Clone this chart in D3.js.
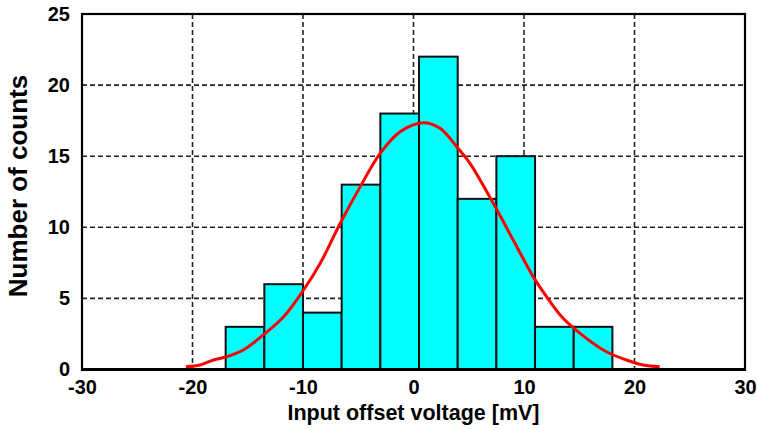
<!DOCTYPE html>
<html>
  <head>
    <meta charset="utf-8">
    <title>Input offset voltage histogram</title>
    <script type="text/javascript" src="https://d3js.org/d3.v7.min.js"></script>
    <style>
      body { margin: 0; background: #fff; }
      text { font-family: "Liberation Sans", Arial, sans-serif; font-weight: bold; fill: #000; }
    </style>
  </head>

  <body>
    <script>

    // histogram bins (left edges) and counts
    var binEdges = [-17, -13.5, -10, -6.5, -3, 0.5, 4, 7.5, 11, 14.5, 18];
    var counts   = [3, 6, 4, 13, 18, 22, 12, 15, 3, 3];

    // fitted curve
    var curveX = [-20.6, -19.3, -18.1, -16.9, -15.4, -13.6, -11.75, -9.95, -8.44, -6.63, -4.82, -3.02, -1.21,
                  0.89, 2.4, 3.91, 5.11, 7.22, 9.02, 10.83, 12.04, 13.54, 15.65, 17.46, 19.27, 20.77, 22.28];
    var curveY = [0.2, 0.32, 0.67, 0.9, 1.37, 2.43, 3.71, 5.59, 7.47, 10.28, 12.86, 15.2, 16.72,
                  17.36, 16.96, 15.67, 14.5, 11.69, 9.11, 6.53, 5.12, 3.6, 2.19, 1.25, 0.67, 0.32, 0.2];

    var xTicks = [-30, -20, -10, 0, 10, 20, 30];
    var yTicks = [0, 5, 10, 15, 20, 25];

    var width = 757, height = 429;
    var plotLeft = 82, plotRight = 745, plotTop = 14, plotBottom = 369.5;   // plot frame

    var x = d3.scaleLinear().domain([-30, 30]).range([plotLeft, plotRight]);
    var y = d3.scaleLinear().domain([0, 25]).range([plotBottom, plotTop]);

    var svg = d3.select('body')
                .append('svg')
                .attr("width", width)
                .attr("height", height);

    // dashed grid
    svg.append("g")
       .selectAll("line")
       .data(xTicks.slice(1, -1))
       .enter().append("line")
         .attr("x1", function(d) { return x(d); })
         .attr("x2", function(d) { return x(d); })
         .attr("y1", plotTop).attr("y2", plotBottom)
         .attr("stroke", "#222").attr("stroke-width", 1.6)
         .attr("stroke-dasharray", "5,3");

    svg.append("g")
       .selectAll("line")
       .data(yTicks.slice(1, -1))
       .enter().append("line")
         .attr("y1", function(d) { return y(d); })
         .attr("y2", function(d) { return y(d); })
         .attr("x1", plotLeft).attr("x2", plotRight)
         .attr("stroke", "#222").attr("stroke-width", 1.6)
         .attr("stroke-dasharray", "5,3");

    // bars
    svg.append("g")
       .selectAll("rect")
       .data(counts)
       .enter().append("rect")
         .attr("x", function(d, i) { return x(binEdges[i]); })
         .attr("width", function(d, i) { return x(binEdges[i + 1]) - x(binEdges[i]); })
         .attr("y", function(d) { return y(d); })
         .attr("height", function(d) { return y(0) - y(d); })
         .attr("fill", "#00ffff")
         .attr("stroke", "#111")
         .attr("stroke-width", 2);

    // fit curve
    var line = d3.line()
                 .x(function(d, i) { return x(curveX[i]); })
                 .y(function(d) { return y(d); })
                 .curve(d3.curveCatmullRom);

    svg.append("path")
       .datum(curveY)
       .attr("d", line)
       .attr("fill", "none")
       .attr("stroke", "#ff0000")
       .attr("stroke-width", 3);

    // frame
    svg.append("rect")
       .attr("x", plotLeft).attr("y", plotTop)
       .attr("width", plotRight - plotLeft).attr("height", plotBottom - plotTop)
       .attr("fill", "none").attr("stroke", "#000").attr("stroke-width", 2.2);
    svg.append("line")
       .attr("x1", plotLeft - 1).attr("x2", plotRight + 1)
       .attr("y1", plotBottom).attr("y2", plotBottom)
       .attr("stroke", "#000").attr("stroke-width", 3);

    // axes (labels only), plain hyphen minus as in the original
    var fmt = function(d) { return String(d); };
    var xAxis = d3.axisBottom(x).tickValues(xTicks).tickFormat(fmt).tickSize(0).tickPadding(10);
    var yAxis = d3.axisLeft(y).tickValues(yTicks).tickFormat(fmt).tickSize(0).tickPadding(12);

    var gx = svg.append("g").attr("transform", "translate(0," + plotBottom + ")").call(xAxis);
    var gy = svg.append("g").attr("transform", "translate(" + plotLeft + ",0)").call(yAxis);
    [gx, gy].forEach(function(g) {
      g.select(".domain").remove();
      g.selectAll("text").style("font-size", "20px").style("font-family", "'Liberation Sans', Arial, sans-serif")
       .style("font-weight", "bold").attr("fill", "#000");
    });

    svg.append("text")
       .attr("x", (plotLeft + plotRight) / 2)
       .attr("y", 420)
       .attr("text-anchor", "middle")
       .style("font-size", "21.5px")
       .text("Input offset voltage [mV]");

    svg.append("text")
       .attr("transform", "translate(27," + 186 + ") rotate(-90)")
       .attr("text-anchor", "middle")
       .style("font-size", "26px")
       .text("Number of counts");

    </script>
  </body>
</html>
